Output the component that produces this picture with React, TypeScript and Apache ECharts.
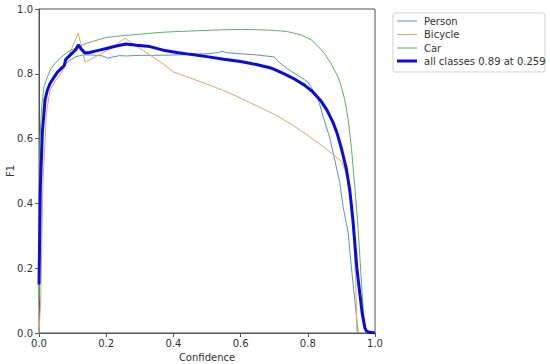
import React, { useEffect, useRef } from "react";
import * as echarts from "echarts";

const personX = [0, 0.004, 0.01, 0.02, 0.03, 0.05, 0.07, 0.09, 0.11, 0.13, 0.16, 0.19, 0.205, 0.22, 0.24, 0.26, 0.3, 0.35, 0.4, 0.45, 0.5, 0.53, 0.545, 0.56, 0.6, 0.65, 0.7, 0.715, 0.74, 0.77, 0.79, 0.8, 0.815, 0.83, 0.845, 0.866, 0.88, 0.895, 0.905, 0.92, 0.93, 0.94, 0.95];
const personY = [0.1, 0.45, 0.62, 0.72, 0.77, 0.8, 0.825, 0.84, 0.853, 0.858, 0.858, 0.855, 0.848, 0.852, 0.856, 0.855, 0.857, 0.857, 0.858, 0.86, 0.862, 0.865, 0.869, 0.865, 0.862, 0.858, 0.852, 0.835, 0.815, 0.795, 0.782, 0.775, 0.75, 0.725, 0.67, 0.6, 0.535, 0.465, 0.39, 0.31, 0.2, 0.1, 0.0];

const bicycleX = [0, 0.005, 0.012, 0.022, 0.033, 0.05, 0.068, 0.09, 0.117, 0.137, 0.16, 0.2, 0.23, 0.256, 0.29, 0.33, 0.37, 0.4, 0.45, 0.5, 0.55, 0.6, 0.65, 0.7, 0.75, 0.8, 0.85, 0.9, 0.91, 0.93, 0.943, 0.946];
const bicycleY = [0, 0.1, 0.47, 0.68, 0.75, 0.78, 0.805, 0.86, 0.926, 0.836, 0.848, 0.87, 0.89, 0.91, 0.885, 0.858, 0.83, 0.806, 0.787, 0.768, 0.748, 0.725, 0.7, 0.675, 0.645, 0.61, 0.572, 0.53, 0.505, 0.42, 0.15, 0.0];

const carX = [0, 0.003, 0.008, 0.015, 0.025, 0.035, 0.05, 0.07, 0.09, 0.11, 0.13, 0.16, 0.2, 0.25, 0.3, 0.35, 0.4, 0.45, 0.5, 0.55, 0.6, 0.65, 0.7, 0.74, 0.78, 0.81, 0.83, 0.85, 0.87, 0.89, 0.9, 0.91, 0.92, 0.93, 0.94, 0.95, 0.96, 0.965, 0.97, 0.98];
const carY = [0.1, 0.6, 0.7, 0.76, 0.79, 0.815, 0.835, 0.855, 0.87, 0.88, 0.89, 0.9, 0.912, 0.918, 0.922, 0.927, 0.93, 0.932, 0.934, 0.936, 0.937, 0.936, 0.934, 0.93, 0.92, 0.905, 0.885, 0.862, 0.83, 0.79, 0.76, 0.72, 0.66, 0.57, 0.45, 0.32, 0.15, 0.07, 0.02, 0.0];

const allX = [0, 0.004, 0.01, 0.018, 0.025, 0.033, 0.045, 0.055, 0.065, 0.075, 0.08, 0.095, 0.11, 0.117, 0.125, 0.137, 0.15, 0.18, 0.2, 0.23, 0.259, 0.29, 0.33, 0.37, 0.41, 0.45, 0.5, 0.55, 0.6, 0.65, 0.69, 0.73, 0.76, 0.79, 0.815, 0.84, 0.857, 0.875, 0.887, 0.9, 0.915, 0.925, 0.935, 0.946, 0.955, 0.962, 0.97, 0.975, 0.985, 1.0];
const allY = [0.15, 0.45, 0.62, 0.72, 0.75, 0.77, 0.79, 0.805, 0.815, 0.825, 0.845, 0.86, 0.875, 0.889, 0.877, 0.864, 0.866, 0.873, 0.878, 0.886, 0.892, 0.888, 0.884, 0.873, 0.866, 0.86, 0.853, 0.845, 0.838, 0.828, 0.818, 0.8, 0.784, 0.765, 0.744, 0.715, 0.688, 0.65, 0.617, 0.57, 0.505, 0.44, 0.34, 0.2, 0.12, 0.06, 0.015, 0.005, 0.002, 0.0];

const legendNames = ["Person", "Bicycle", "Car", "all classes 0.89 at 0.259"];
const colors = ["#5b93c4", "#e3a665", "#62ad62", "#0a0ae6"];
const widths = [1, 1, 1, 3];

const zip = (xs: number[], ys: number[]) => xs.map((x, i) => [x, ys[i]]);

export default function App() {
  const ref = useRef<HTMLDivElement>(null);
  useEffect(() => {
    if (!ref.current) return;
    const chart = echarts.init(ref.current, null, { renderer: "svg" });
    const font = "DejaVu Sans";
    const datas = [zip(personX, personY), zip(bicycleX, bicycleY), zip(carX, carY), zip(allX, allY)];
    const legendGraphics: any[] = [
      {
        type: "rect",
        shape: { x: 393, y: 13, width: 152, height: 59, r: 2 },
        style: { fill: "#fff", stroke: "#d0d0d0", lineWidth: 1 },
        z: 10,
      },
      {
        type: "text",
        x: 10,
        y: 171,
        rotation: Math.PI / 2,
        style: { text: "F1", fill: "#333", fontSize: 10, fontFamily: font, align: "center", verticalAlign: "middle" },
        z: 11,
      },
    ];
    const rowsY = [21, 34.5, 48, 61];
    legendNames.forEach((n, i) => {
      legendGraphics.push({
        type: "line",
        shape: { x1: 397, y1: rowsY[i], x2: 417, y2: rowsY[i] },
        style: { stroke: colors[i], lineWidth: widths[i] },
        z: 11,
      });
      legendGraphics.push({
        type: "text",
        x: 424,
        y: rowsY[i],
        style: { text: n, fill: "#333", fontSize: 10, fontFamily: font, verticalAlign: "middle", align: "left" },
        z: 11,
      });
    });
    chart.setOption({
      animation: false,
      backgroundColor: "#fff",
      grid: {
        left: 39,
        right: 175,
        top: 9,
        bottom: 31,
        show: true,
        borderColor: "#555",
        borderWidth: 1,
        containLabel: false,
        outerBoundsMode: "none",
      },
      xAxis: {
        type: "value",
        min: 0,
        max: 1,
        interval: 0.2,
        name: "Confidence",
        nameLocation: "middle",
        nameGap: 17,
        nameTextStyle: { fontSize: 10, fontFamily: font, color: "#333" },
        axisLine: { show: true, lineStyle: { color: "#555" } },
        axisTick: { show: true, length: 4, lineStyle: { color: "#555" } },
        axisLabel: { fontSize: 10, fontFamily: font, color: "#333", margin: 5, formatter: (v: number) => v.toFixed(1) },
        splitLine: { show: false },
      },
      yAxis: {
        type: "value",
        min: 0,
        max: 1,
        interval: 0.2,
        axisLine: { show: true, lineStyle: { color: "#555" } },
        axisTick: { show: true, length: 4, lineStyle: { color: "#555" } },
        axisLabel: { fontSize: 10, fontFamily: font, color: "#333", margin: 6, formatter: (v: number) => v.toFixed(1) },
        splitLine: { show: false },
      },
      series: legendNames.map((n, i) => ({
        name: n,
        type: "line",
        data: datas[i],
        showSymbol: false,
        symbol: "none",
        clip: true,
        lineStyle: { color: colors[i], width: widths[i] },
        z: i === 3 ? 5 : 2 + i * 0.1,
      })),
      graphic: legendGraphics,
    });
    return () => chart.dispose();
  }, []);
  return <div ref={ref} style={{ width: 550, height: 364, position: "absolute", left: 0, top: 0 }} />;
}
